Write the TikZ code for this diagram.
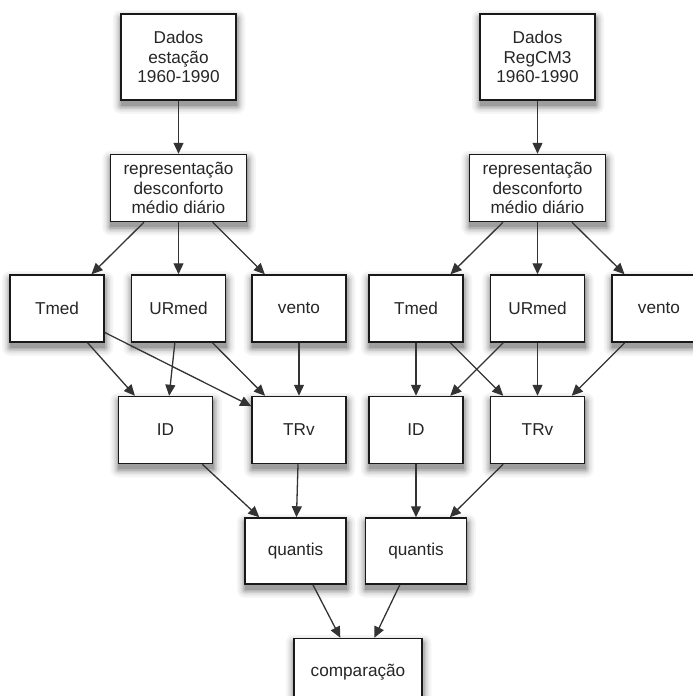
\documentclass[tikz,border=0pt]{standalone}
\usepackage{fontspec}
\setmainfont{Liberation Sans}
\usetikzlibrary{positioning,shapes,arrows.meta,calc,backgrounds}
\tikzstyle{block} = [rectangle, text centered, align=center, draw=black!90, line width=1.5pt, fill=white, inner sep=0pt, text=black!85]
\tikzstyle{srcbox} = [block, minimum width=115pt, minimum height=86pt]
\tikzstyle{sumbox} = [block, minimum width=136pt, minimum height=67pt]
\tikzstyle{varbox} = [block, minimum width=94pt, minimum height=67pt]
\tikzstyle{qbox} = [block, minimum width=101pt, minimum height=66pt]
\tikzstyle{cmpbox} = [block, minimum width=128pt, minimum height=67pt]
\tikzstyle{arrow} = [-{Triangle[length=11pt,width=10pt]}, line width=1.3pt, draw=black!80]

\begin{document}
\begin{tikzpicture}[x=1pt, y=1pt, font=\fontsize{17.2}{19.5}\selectfont]
		\path[use as bounding box, clip] (0,0) rectangle (693,-696);
		
		% station branch
		\node (dados-est) [srcbox] at (178.5,-57) {Dados\\estação\\1960-1990};
		\node (rep-est) [sumbox,below=53pt of dados-est] {representação\\desconforto\\médio diário};
		\node (urmed-est) [varbox,below=52pt of rep-est] {URmed};
		\node (tmed-est) [varbox,left=26pt of urmed-est] {Tmed};
		\node (vento-est) [varbox,right=25pt of urmed-est] {vento};
		\node (trv-est) [varbox,below=53pt of vento-est] {TRv};
		\node (id-est) [varbox,left=38pt of trv-est] {ID};
		\node (quantis-est) [qbox,below=53pt of trv-est,xshift=-3.5pt] {quantis};
		
		% model branch
		\node (dados-reg) [srcbox] at (537.5,-57) {Dados\\RegCM3\\1960-1990};
		\node (rep-reg) [sumbox,below=53pt of dados-reg] {representação\\desconforto\\médio diário};
		\node (urmed-reg) [varbox,below=52pt of rep-reg] {URmed};
		\node (tmed-reg) [varbox,left=26pt of urmed-reg] {Tmed};
		\node (vento-reg) [varbox,right=26pt of urmed-reg] {vento};
		\node (id-reg) [varbox,below=53pt of tmed-reg] {ID};
		\node (trv-reg) [varbox,below=53pt of urmed-reg] {TRv};
		\node (quantis-reg) [qbox,below=53pt of id-reg] {quantis};
		
		\node (comparacao) [cmpbox,below=53pt of quantis-est,xshift=62.5pt] {comparação};
		
		% soft shadows behind the boxes
		\begin{pgfonlayer}{background}
			\foreach \n in {dados-est,rep-est,tmed-est,urmed-est,vento-est,id-est,trv-est,quantis-est,dados-reg,rep-reg,tmed-reg,urmed-reg,vento-reg,id-reg,trv-reg,quantis-reg,comparacao}
			\foreach \d/\c in {8/4,6/8,4.5/13,3/20,1.5/29,0/38}
			\fill [black!\c, rounded corners=\d pt] ($(\n.south west)+(0.5-\d,-5-\d)$) rectangle ($(\n.north east)+(0.5+\d,-5+\d)$);
		\end{pgfonlayer}
		
		\draw [arrow] (dados-est) -- (rep-est);
		\draw [arrow] (rep-est) -- (tmed-est);
		\draw [arrow] (rep-est) -- (urmed-est);
		\draw [arrow] (rep-est) -- (vento-est);
		\draw [arrow] (tmed-est) -- (id-est);
		\draw [arrow] (tmed-est) -- (trv-est);
		\draw [arrow] (urmed-est) -- (id-est);
		\draw [arrow] (urmed-est) -- (trv-est);
		\draw [arrow] (vento-est) -- (trv-est);
		\draw [arrow] (id-est) -- (quantis-est);
		\draw [arrow] (trv-est) -- (quantis-est);
		
		\draw [arrow] (dados-reg) -- (rep-reg);
		\draw [arrow] (rep-reg) -- (tmed-reg);
		\draw [arrow] (rep-reg) -- (urmed-reg);
		\draw [arrow] (rep-reg) -- (vento-reg);
		\draw [arrow] (tmed-reg) -- (id-reg);
		\draw [arrow] (tmed-reg) -- (trv-reg);
		\draw [arrow] (urmed-reg) -- (id-reg);
		\draw [arrow] (urmed-reg) -- (trv-reg);
		\draw [arrow] (vento-reg) -- (trv-reg);
		\draw [arrow] (id-reg) -- (quantis-reg);
		\draw [arrow] (trv-reg) -- (quantis-reg);
		
		\draw [arrow] (quantis-est) -- (comparacao);
		\draw [arrow] (quantis-reg) -- (comparacao);
	\end{tikzpicture}
\end{document}
